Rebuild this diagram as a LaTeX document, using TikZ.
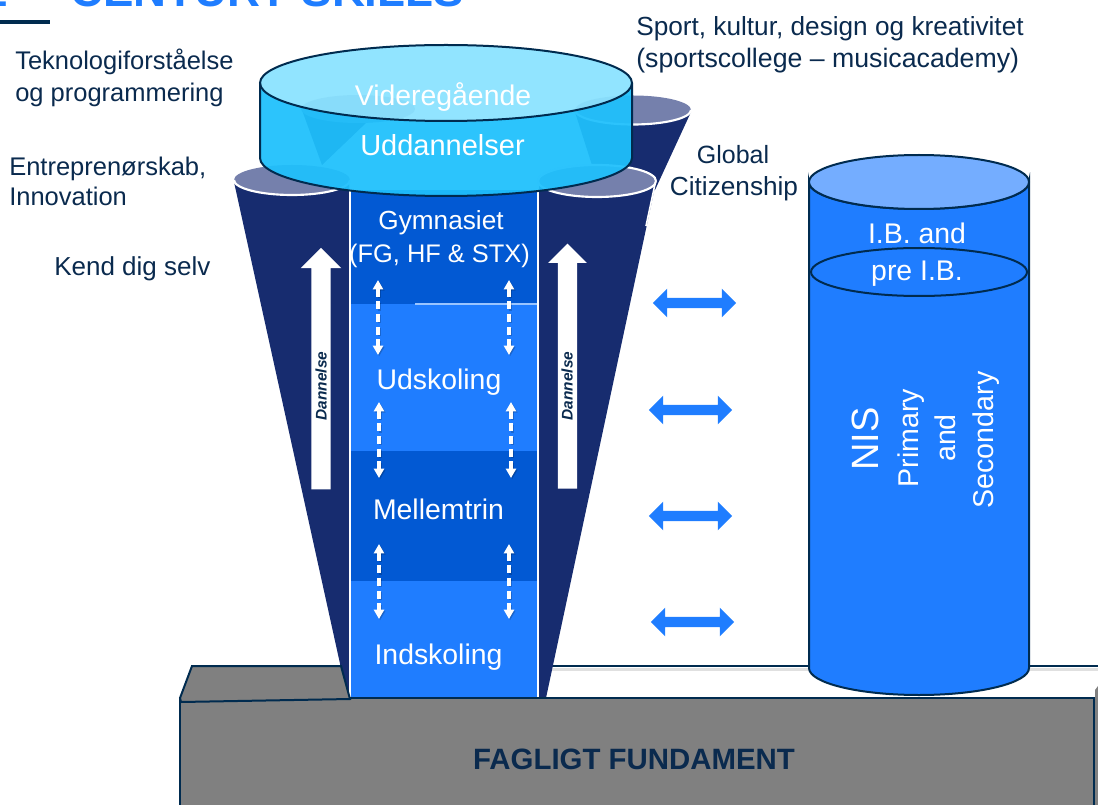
\documentclass[tikz,border=0pt]{standalone}
\usepackage{fontspec}
\setmainfont{Liberation Sans}
\usetikzlibrary{shapes.arrows,arrows.meta}
\definecolor{inkc}{HTML}{0A2A4E}
\definecolor{edgec}{HTML}{002B4F}
\definecolor{navyc}{HTML}{172C6F}
\definecolor{lidc}{HTML}{7580AC}
\definecolor{darkb}{HTML}{0259D3}
\definecolor{lightb}{HTML}{1F7DFF}
\definecolor{cylside}{HTML}{1FC0FC}
\definecolor{cyltop}{HTML}{8AE2FF}
\definecolor{nistop}{HTML}{74ADFF}
\definecolor{groundc}{HTML}{808080}
\newcommand{\pxs}[1]{\fontsize{\dimexpr #1pt*3/4\relax}{\dimexpr #1pt\relax}\selectfont}
\tikzset{
  darktext/.style={text=inkc,inner sep=0pt,anchor=base west},
  whitetext/.style={text=white,inner sep=0pt,anchor=base,font=\pxs{28.4}},
  lidshape/.style={fill=lidc},
  darkedge/.style={draw=edgec,line width=1.5pt},
  updown/.style={draw=white,line width=2.5pt,dash pattern=on 6pt off 3.5pt,{Triangle[length=7pt,width=7.5pt]}-{Triangle[length=7pt,width=7.5pt]}},
  updownshade/.style={draw=black,opacity=.18,line width=2.5pt,dash pattern=on 6pt off 3.5pt,{Triangle[length=7pt,width=7.5pt]}-{Triangle[length=7pt,width=7.5pt]}},
  blockpair/.style={double arrow,fill=lightb,draw=none,inner xsep=0pt,inner ysep=3.6pt,minimum width=21pt,minimum height=62.5pt,double arrow head extend=6.9pt},
  riseblock/.style={single arrow,fill=white,draw=none,shape border rotate=90,inner ysep=0pt,inner xsep=7.1pt,minimum width=30pt,minimum height=181pt,single arrow head extend=7.9pt},
  spine/.style={text=inkc,inner sep=0pt,rotate=90,font=\bfseries\itshape\pxs{15.4}},
  upright/.style={text=white,inner sep=0pt,rotate=90,anchor=base}
}
\begin{document}
\begin{tikzpicture}[x=0.75pt,y=-0.75pt]
\useasboundingbox (0,0) rectangle (1098,805);
\clip (0,0) rectangle (1098,805);
% title remnant
\node[text=lightb,inner sep=0pt,anchor=base west,font=\bfseries\pxs{45.6}] (title) at (70,7) {CENTURY SKILLS};
\node[text=lightb,inner sep=0pt,anchor=base east,font=\bfseries\pxs{45}] (titlea) at (8,7) {1};
\fill[edgec] (0,20) rectangle (50,24);
% back rim line of the ground
\fill[black!12] (552,668) rectangle (1098,671);
\draw[edgec,line width=1.3pt] (540,666) -- (1098,666);
% rear funnels
\fill[navyc] (302,110) -- (322,165) -- (367,122) -- cycle;
\fill[lidc] (358,109) ellipse [x radius=57,y radius=14];
\fill[navyc] (575,112) -- (691,112) -- (655,190) -- (600,190) -- cycle;
\path[lidshape] (633,110) ellipse [x radius=58,y radius=14.5];
\draw[white,line width=1.6pt] (575,110) arc[start angle=180,end angle=0,x radius=58,y radius=14.5];
% centre column
\fill[darkb] (351,190) rectangle (537,304);
\fill[lightb] (351,304) rectangle (537,451);
\fill[darkb] (351,451) rectangle (537,581);
\fill[lightb] (351,581) rectangle (537,698);
\draw[white!55!lightb,line width=.8pt] (415,304) -- (537,304);
% front funnels
\fill[navyc] (234,182) -- (349,182) -- (349,700) -- (348,700) -- cycle;
\fill[navyc] (539,182) -- (656,182) -- (546,698) -- (539,698) -- cycle;
\draw[white,line width=1.2pt] (655,184) -- (646,226);
\path[lidshape] (292,180) ellipse [x radius=58,y radius=15];
\draw[white,line width=1.6pt] (234,180) arc[start angle=180,end angle=0,x radius=58,y radius=15];
\path[lidshape] (597,181) ellipse [x radius=59,y radius=16];
\draw[white,line width=1.6pt] (538,181) arc[start angle=180,end angle=0,x radius=59,y radius=16];
\draw[white,line width=1.6pt] (538,181) arc[start angle=180,end angle=360,x radius=59,y radius=16];
\draw[white,line width=1.6pt] (350,190) -- (350,698);
\draw[white,line width=1.6pt] (538,190) -- (538,698);
% Dannelse arrows
\node[riseblock] (riseL) at (321,373.5) {};
\node[riseblock,minimum width=28.5pt,minimum height=183.8pt,single arrow head extend=7.2pt] (riseR) at (567.5,371) {};
\node[spine] (danL) at (321,386) {Dannelse};
\node[spine] (danR) at (567,386) {Dannelse};
% ground
\fill[groundc] (1095,690) -- (1098,686) -- (1098,805) -- (1095,805) -- cycle;
\path[fill=groundc,darkedge] (180,698) rectangle (1094,815);
\path[fill=groundc,darkedge] (192,666) -- (341,666) -- (350,699) -- (181,702) -- (180,698) -- cycle;
\node[text=inkc,inner sep=0pt,anchor=base,font=\bfseries\pxs{29.4}] (found) at (634,769) {FAGLIGT FUNDAMENT};
% dashed two-way arrows
\coordinate (d1a) at (378,280); \coordinate (d1b) at (378,355);
\coordinate (d2a) at (509,280); \coordinate (d2b) at (509,355);
\coordinate (d3a) at (379,402); \coordinate (d3b) at (379,478);
\coordinate (d4a) at (511,402); \coordinate (d4b) at (511,478);
\coordinate (d5a) at (379,544); \coordinate (d5b) at (379,619);
\coordinate (d6a) at (509,544); \coordinate (d6b) at (509,619);
\foreach \n in {1,...,6}{
  \draw[updownshade,transform canvas={shift={(.9pt,-.9pt)}}] (d\n a) -- (d\n b);
  \draw[updown] (d\n a) -- (d\n b);
}
% column labels
\node[whitetext,font=\pxs{26.2}] (gym) at (441,230) {Gymnasiet};
\node[whitetext,font=\pxs{25.4}] (fg) at (439.5,263) {(FG, HF \& STX)};
\node[whitetext] (uds) at (439,389) {Udskoling};
\node[whitetext] (mel) at (438.5,519) {Mellemtrin};
\node[whitetext] (ind) at (438.5,664) {Indskoling};
% top cylinder
\path[fill=cylside,fill opacity=.94] (260,83) -- (260,158) arc[start angle=180,end angle=0,x radius=186,y radius=38] -- (632,83) arc[start angle=0,end angle=180,x radius=186,y radius=38] -- cycle;
\path[fill=cyltop,fill opacity=.94] (446,83) ellipse [x radius=186,y radius=38];
\draw[edgec,line width=1.5pt] (446,83) ellipse [x radius=186,y radius=38];
\draw[edgec,line width=1.5pt] (260,83) -- (260,158) arc[start angle=180,end angle=0,x radius=186,y radius=38] -- (632,83);
\node[whitetext] (vid) at (443,106) {Videregående};
\node[whitetext,font=\pxs{29}] (udd) at (442.5,156) {Uddannelser};
% NIS cylinder
\path[fill=lightb,darkedge] (809,182) -- (809,668) arc[start angle=180,end angle=0,x radius=110,y radius=27] -- (1029,182) arc[start angle=0,end angle=180,x radius=110,y radius=27] -- cycle;
\path[fill=nistop,darkedge] (919,182) ellipse [x radius=110,y radius=27];
\path[darkedge] (919,272) ellipse [x radius=108,y radius=24];
\node[whitetext] (ib) at (917,244) {I.B. and};
\node[whitetext] (pre) at (917,281) {pre I.B.};
\node[upright,font=\pxs{38}] (nis) at (878,439) {NIS};
\node[upright,font=\pxs{28.6}] (pri) at (918,438) {Primary};
\node[upright,font=\pxs{28.6}] (and) at (955,438) {and};
\node[upright,font=\pxs{28.6}] (sec) at (993,440) {Secondary};
% two-way block arrows
\node[blockpair] (p1) at (694.5,303) {};
\node[blockpair] (p2) at (690.5,410) {};
\node[blockpair] (p3) at (690.5,516) {};
\node[blockpair] (p4) at (692.5,622) {};
% side labels
\node[darktext,font=\pxs{25.5}] (t1) at (15,70) {Teknologiforståelse};
\node[darktext,font=\pxs{25.5}] (t2) at (15,102) {og programmering};
\node[darktext,font=\pxs{25.5}] (t3) at (9,176) {Entreprenørskab,};
\node[darktext,font=\pxs{25.5}] (t4) at (9,206) {Innovation};
\node[darktext,font=\pxs{26}] (t5) at (54,276) {Kend dig selv};
\node[darktext,font=\pxs{26.2}] (t6) at (636,36) {Sport, kultur, design og kreativitet};
\node[darktext,font=\pxs{26.7}] (t7) at (636,68) {(sportscollege -- musicacademy)};
\node[text=inkc,inner sep=0pt,anchor=base,font=\pxs{25}] (t8) at (733,164) {Global};
\node[text=inkc,inner sep=0pt,anchor=base,font=\pxs{26.2}] (t9) at (734,196) {Citizenship};
\end{tikzpicture}
\end{document}
